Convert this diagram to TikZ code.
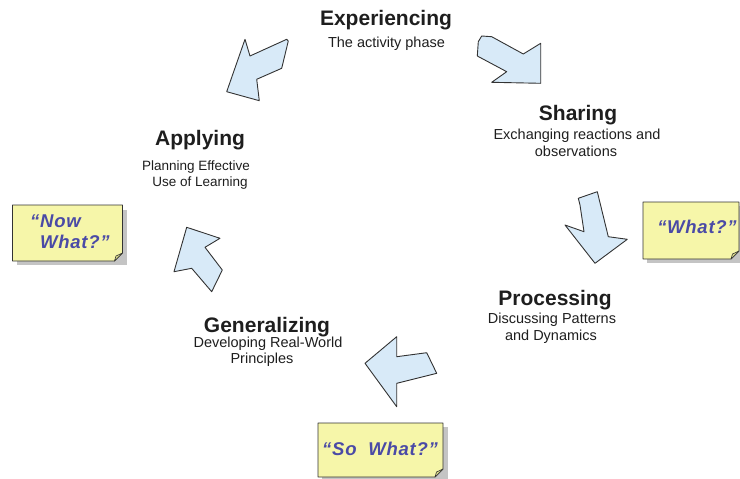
\documentclass[tikz,border=0pt]{standalone}
\usepackage{fontspec}
\setmainfont{Liberation Sans}
\definecolor{arrowfill}{HTML}{D8EAF8}
\definecolor{arrowline}{HTML}{333333}
\definecolor{notefill}{HTML}{F6F6A9}
\definecolor{notefold}{HTML}{DCDC8C}
\definecolor{notetext}{HTML}{4A4AA6}
\definecolor{titletext}{HTML}{1E1E1E}
\definecolor{shadowgray}{HTML}{C4C4C4}
\tikzset{
  cyclearrow/.style={fill=arrowfill, draw=arrowline, line width=0.9pt, line join=round},
  stagetitle/.style={anchor=base, inner sep=0pt, text=titletext, font=\fontsize{21}{24}\selectfont\bfseries},
  stagesub/.style={anchor=base, inner sep=0pt, text=titletext, font=\fontsize{14.5}{17}\selectfont},
  stagesubsmall/.style={anchor=base, inner sep=0pt, text=titletext, font=\fontsize{13.5}{16}\selectfont},
  notebody/.style={fill=notefill, draw=black!80, line width=0.8pt, line join=round},
  noteshadow/.style={fill=shadowgray},
  notefoldstyle/.style={fill=notefold, draw=black!80, line width=0.6pt, line join=round},
  notelabel/.style={inner sep=0pt, text=notetext, font=\fontsize{18.5}{21}\selectfont\addfontfeatures{LetterSpace=4}\bfseries\itshape}
}
\begin{document}
\begin{tikzpicture}[x=1pt, y=-1pt]
\useasboundingbox (0,0) rectangle (740,479);

% ---------- stage texts ----------
\node[stagetitle] (exp) at (386,25) {Experiencing};
\node[stagesub] (exps) at (386.5,47) {The activity phase};

\node[stagetitle] (sha) at (578,120) {Sharing};
\node[stagesub] (shas1) at (577,139) {Exchanging reactions and};
\node[stagesub] (shas2) at (576,156) {observations};

\node[stagetitle] (app) at (200,145) {Applying};
\node[stagesubsmall] (apps1) at (196,170) {Planning Effective};
\node[stagesubsmall] (apps2) at (200,186) {Use of Learning};

\node[stagetitle] (gen) at (267,332) {Generalizing};
\node[stagesub] (gens1) at (268,347) {Developing Real-World};
\node[stagesub] (gens2) at (262,363) {Principles};

\node[stagetitle] (pro) at (555,305) {Processing};
\node[stagesub] (pros1) at (552,323) {Discussing Patterns};
\node[stagesub] (pros2) at (551,340) {and Dynamics};

% ---------- cycle arrows ----------
% Experiencing -> Applying (top left)
\draw[cyclearrow] (245,39.3) -- (250,56) -- (286.7,39.3) -- (288.3,41) -- (281.7,68.3)
  -- (256.7,79.3) -- (259.3,100.7) -- (226.7,91.7) -- cycle;
% Experiencing -> Sharing (top right)
\draw[cyclearrow] (481.7,36) -- (491.7,36.7) -- (523.3,54) -- (540.7,43.3) -- (540.7,83.3)
  -- (491.7,82.3) -- (506.7,71.7) -- (477.3,56) -- (478.3,41.7) -- cycle;
% Sharing -> Processing (right)
\draw[cyclearrow] (578.3,198.3) -- (597.3,191.7) -- (608.3,236.7) -- (627.3,239.3)
  -- (595,263.3) -- (565,225) -- (584,231.7) -- (580,205) -- cycle;
% Processing -> Generalizing (bottom)
\draw[cyclearrow] (396.7,336.7) -- (396.7,356.7) -- (426.7,352.7) -- (436.7,373.3)
  -- (396.7,383.3) -- (396.7,406.7) -- (365,363.3) -- cycle;
% Generalizing -> Applying (left)
\draw[cyclearrow] (186.7,227.3) -- (220,238.3) -- (205,247.3) -- (222.3,270)
  -- (211.7,291.7) -- (191.7,268.3) -- (174,271.7) -- cycle;

% ---------- notes ----------
% Now What?
\fill[noteshadow] (17,210) rectangle (127,265);
\draw[notebody] (12.5,205) -- (122.5,205) -- (122.5,253) -- (114.5,261) -- (12.5,261) -- cycle;
\draw[notefoldstyle] (122.5,253) -- (116,256) -- (114.5,261) -- cycle;
\node[notelabel, anchor=base west] (now1) at (30,227) {“Now};
\node[notelabel, anchor=base west] (now2) at (40,248) {What?”};

% What?
\fill[noteshadow] (647,206) rectangle (740,263);
\draw[notebody] (643,202) -- (739,202) -- (739,251) -- (731,259) -- (643,259) -- cycle;
\draw[notefoldstyle] (739,251) -- (732.5,254) -- (731,259) -- cycle;
\node[notelabel, anchor=base] (what) at (697,233) {“What?”};

% So What?
\fill[noteshadow] (322,427) rectangle (447.5,479);
\draw[notebody] (318,423) -- (443,423) -- (443,469) -- (435,477) -- (318,477) -- cycle;
\draw[notefoldstyle] (443,469) -- (436.5,472) -- (435,477) -- cycle;
\node[notelabel, anchor=base] (sowhat) at (380,455) {“So\ \ What?”};
\end{tikzpicture}
\end{document}
